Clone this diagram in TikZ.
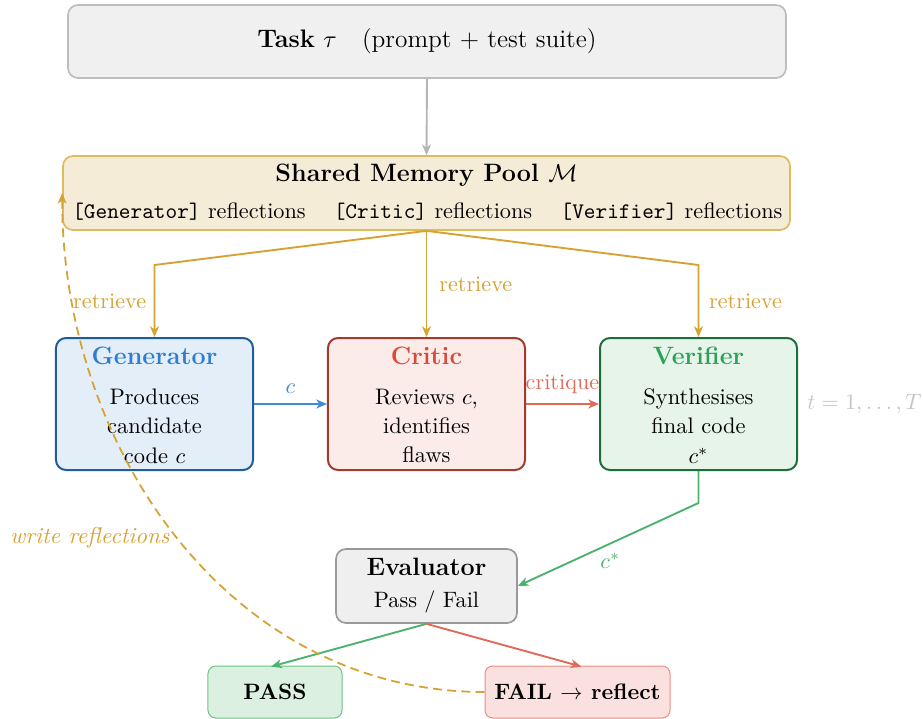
\documentclass[tikz,border=0pt]{standalone}
\usetikzlibrary{arrows.meta,calc}
\definecolor{taskfill}{HTML}{F0F0F0}
\definecolor{taskdraw}{HTML}{BDBDBD}
\definecolor{grayarr}{HTML}{B5B5B5}
\definecolor{memfill}{HTML}{F5ECD8}
\definecolor{memdraw}{HTML}{E2BA5E}
\definecolor{gold}{HTML}{D6A232}
\definecolor{genfill}{HTML}{E3EEF8}
\definecolor{gendraw}{HTML}{1F5C99}
\definecolor{gentitle}{HTML}{2E7DD1}
\definecolor{genarr}{HTML}{3D8BD6}
\definecolor{critfill}{HTML}{FBECEA}
\definecolor{critdraw}{HTML}{A33A2E}
\definecolor{crittitle}{HTML}{D9493A}
\definecolor{critarr}{HTML}{E06A5A}
\definecolor{verfill}{HTML}{E6F4EA}
\definecolor{verdraw}{HTML}{1E6E3A}
\definecolor{vertitle}{HTML}{2EA05A}
\definecolor{verarr}{HTML}{4CB26E}
\definecolor{evalfill}{HTML}{EFEFEF}
\definecolor{evaldraw}{HTML}{999999}
\definecolor{passfill}{HTML}{DCF0E2}
\definecolor{passdraw}{HTML}{6CC385}
\definecolor{failfill}{HTML}{FAE0DE}
\definecolor{faildraw}{HTML}{EA8D85}
\definecolor{tgray}{HTML}{C4C4C4}
\begin{document}
\begin{tikzpicture}[x=0.45pt,y=-0.45pt,
  box/.style={draw, rounded corners=4.5pt, line width=0.75pt, inner sep=0pt},
  smallbox/.style={draw, rounded corners=3.5pt, line width=0.45pt, inner sep=0pt,
    minimum width=60.3pt, minimum height=23.4pt, font=\fontsize{10}{12}\selectfont\bfseries},
  agentbox/.style={box, line width=0.9pt, minimum width=88.65pt, minimum height=59.4pt},
  ttl/.style={font=\fontsize{11.3}{13}\selectfont\bfseries, inner sep=0pt},
  bodytxt/.style={font=\fontsize{10.1}{13.2}\selectfont, align=center, inner sep=0pt},
  tip/.style={-{Stealth[length=4.8pt,width=4pt,inset=1.4pt]}},
  conn/.style={line width=0.85pt, tip},
  lbl/.style={font=\fontsize{10}{12}\selectfont},
]
\useasboundingbox (0,0) rectangle (923,719);

% Task
\node[box, fill=taskfill, draw=taskdraw, minimum width=323.1pt, minimum height=32.85pt,
  font=\fontsize{11.4}{13}\selectfont] (task) at (427,41.5)
  {\textbf{Task} $\tau$\quad (prompt + test suite)};

% Memory
\node[box, fill=memfill, draw=memdraw, minimum width=327.15pt, minimum height=33.3pt] (mem) at (426.5,193) {};
\node[ttl] (memt) at (426.5,175) {Shared Memory Pool $\mathcal{M}$};
\node[lbl, inner sep=0pt] (memg) at (189,212) {\texttt{[Generator]} reflections};
\node[lbl, inner sep=0pt] (memc) at (433,212) {\texttt{[Critic]} reflections};
\node[lbl, inner sep=0pt] (memv) at (671.5,212) {\texttt{[Verifier]} reflections};

% Agents
\node[agentbox, fill=genfill, draw=gendraw] (gen) at (154.5,404) {};
\node[ttl, text=gentitle] (gent) at (154.5,356) {Generator};
\node[bodytxt] (genb) at (154.5,426) {Produces\\candidate\\code $c$};

\node[agentbox, fill=critfill, draw=critdraw] (crit) at (426.5,404) {};
\node[ttl, text=crittitle] (critt) at (426.5,356) {Critic};
\node[bodytxt] (critb) at (426.5,426) {Reviews $c$,\\identifies\\flaws};

\node[agentbox, fill=verfill, draw=verdraw] (ver) at (698.5,404) {};
\node[ttl, text=vertitle] (vert) at (698.5,356) {Verifier};
\node[bodytxt] (verb) at (698.5,426) {Synthesises\\final code\\$c^*$};

\node[lbl, text=tgray, anchor=west, inner sep=0pt] (tl) at (807,404) {$t=1,\ldots,T$};

% Evaluator
\node[box, fill=evalfill, draw=evaldraw, minimum width=81.45pt, minimum height=33.3pt] (eval) at (426.5,586) {};
\node[ttl] (evalt) at (426.5,567) {Evaluator};
\node[lbl, inner sep=0pt] (evalb) at (426.5,602) {Pass / Fail};

% Outcomes
\node[smallbox, fill=passfill, draw=passdraw] (pass) at (275,692) {PASS};
\node[smallbox, fill=failfill, draw=faildraw, minimum width=83.25pt] (fail) at (577.5,692) {FAIL $\to$ reflect};

% Connectors
\coordinate (bend) at (0,265);
\coordinate (vbend) at (0,503);
\draw[conn, grayarr] (task.south) -- (mem.north);
\draw[conn, gold] (mem.south) -- (gen.north |- bend) -- node[lbl, left, text=gold] (r1) {retrieve} (gen.north);
\draw[conn, gold] (mem.south) -- node[lbl, right, text=gold, pos=0.5, xshift=2pt] (r2) {retrieve} (crit.north);
\draw[conn, gold] (mem.south) -- (ver.north |- bend) -- node[lbl, right, text=gold, xshift=1pt] (r3) {retrieve} (ver.north);

\draw[conn, genarr] (gen.east) -- node[lbl, above, text=genarr, yshift=1pt] (lc) {$c$} (crit.west);
\draw[conn, critarr] (crit.east) -- node[lbl, above, text=critarr, yshift=1pt] (lcr) {critique} (ver.west);

\draw[conn, verarr] (ver.south) -- (ver.south |- vbend) -- node[lbl, below, text=verarr, pos=0.5, xshift=1pt] (lcs) {$c^*$} (eval.east);

\draw[conn, verarr, shorten >=-1.8pt] (eval.south) -- (pass.north);
\draw[conn, critarr, shorten >=-1.8pt] (eval.south) -- (fail.north);

\draw[gold, line width=0.8pt, dash pattern=on 4pt off 2.4pt, tip]
  (fail.west) to[out=180,in=-90] node[left, pos=0.5, font=\fontsize{10.3}{12}\selectfont\itshape, text=gold] (lw) {write reflections} (mem.west);
\end{tikzpicture}
\end{document}
